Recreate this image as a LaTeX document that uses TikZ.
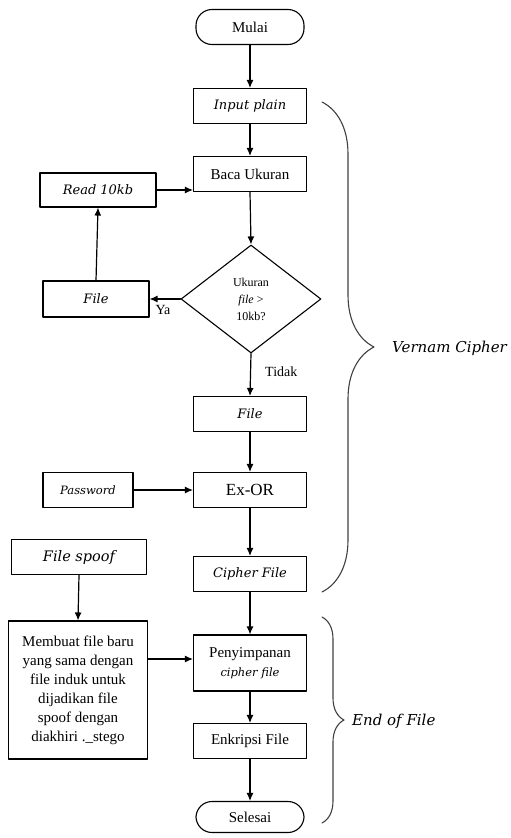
\documentclass[tikz,border=0pt]{standalone}
\usepackage{fontspec}
\setmainfont{Liberation Serif}
\newfontfamily\slfont{DejaVu Serif}
\usetikzlibrary{
  arrows.meta,
  positioning,
  calc,
  shapes.geometric,
  decorations.pathreplacing
}

\begin{document}
\begin{tikzpicture}[
  x=1pt, y=-1pt,
  line cap=round,
  line join=round,
  flow/.style={
    -{Latex[length=8pt,width=7pt]},
    line width=1.2pt,
    draw=black
  },
  box/.style={
    draw,
    line width=1.1pt,
    minimum width=113pt,
    minimum height=35pt,
    align=center,
    inner sep=2pt,
    font=\fontsize{15}{19}\selectfont
  },
  ibox/.style={
    box,
    font=\slfont\itshape\fontsize{13}{16}\selectfont
  },
  term/.style={
    box,
    rounded corners=16pt,
    minimum width=108pt
  },
  decide/.style={
    draw,
    diamond,
    line width=1.1pt,
    aspect=1.3,
    minimum width=140pt,
    minimum height=108pt,
    inner sep=0pt,
    align=center,
    font=\fontsize{12}{17}\selectfont
  },
  brc/.style={
    decorate,
    line width=1.1pt,
    draw=black!75
  },
  lab/.style={
    inner sep=1pt,
    font=\fontsize{14}{16}\selectfont
  },
  grp/.style={
    anchor=west,
    inner sep=0pt,
    font=\slfont\itshape\fontsize{15}{18}\selectfont
  }
]
\useasboundingbox (0,0) rectangle (511,838);

% Main column
\node[term]   (mulai)   at (250,  27) {Mulai};
\node[ibox]   (input)   at (250, 106) {Input plain};
\node[box]    (baca)    at (250, 174) {Baca Ukuran};
\node[decide] (ukuran)  at (251, 299) {Ukuran\\\textit{file} >\\10kb?};
\node[ibox]   (filec)   at (250, 414) {File};
\node[box, font=\fontsize{17}{19}\selectfont] (exor) at (250, 490) {Ex-OR};
\node[ibox]   (cipher)  at (250, 574) {Cipher File};
\node[box, minimum height=56pt] (simpan) at (250, 663)
  {Penyimpanan\\{\slfont\itshape\fontsize{11.5}{14}\selectfont cipher file}};
\node[box]    (enkripsi) at (250, 741) {Enkripsi File};
\node[term, minimum height=31pt] (selesai) at (250, 817) {Selesai};

% Left column
\node[ibox, minimum width=116pt, minimum height=34pt] (read) at (98, 190) {Read 10kb};
\node[ibox, minimum width=106pt, minimum height=36pt] (filel) at (96, 299) {File};
\node[ibox, minimum width=90pt,
  font=\slfont\itshape\fontsize{11.5}{14}\selectfont] (pass) at (88, 490) {Password};
\node[ibox, minimum width=135pt,
  font=\slfont\itshape\fontsize{14.5}{16}\selectfont] (spoof) at (79, 557) {File spoof};
\node[box, minimum width=139pt, minimum height=138pt] (buat) at (78, 690)
  {Membuat file baru\\yang sama dengan\\file induk untuk\\dijadikan file\\spoof dengan\\diakhiri .\_stego};

% Main flow
\draw[flow] (mulai.south)  -- (input.north);
\draw[flow] (input.south)  -- (baca.north);
\draw[flow] (baca.south)   -- (ukuran.north);
\draw[flow] (ukuran.west)  -- (filel.east);
\node[lab] at (163, 310) {Ya};
\draw[flow] (filel.north)  -- (read.south);
\draw[flow] (read.east)    -- (read.east -| baca.west);
\draw[flow] (ukuran.south) -- (filec.north);
\node[lab, anchor=west] at (264, 372) {Tidak};
\draw[flow] (filec.south)  -- (exor.north);
\draw[flow] (pass.east)    -- (exor.west);
\draw[flow] (exor.south)   -- (cipher.north);
\draw[flow] (cipher.south) -- (simpan.north);
\draw[flow] (spoof.south)  -- (buat.north);
\draw[flow] (buat.east |- 0,659) -- (simpan.west |- 0,659);
\draw[flow] (simpan.south) -- (enkripsi.north);
\draw[flow] (enkripsi.south) -- (selesai.north);

% Group braces
\coordinate (vtop) at (322, 102);
\coordinate (vbot) at (322, 592);
\coordinate (etop) at (322, 617);
\coordinate (ebot) at (322, 823);
\draw[brc, decoration={brace, amplitude=52pt}] (vtop) -- (vbot);
\draw[brc, decoration={brace, amplitude=22pt}] (etop) -- (ebot);
\node[grp] (vernam) at (392, 348) {Vernam Cipher};
\node[grp] (eof)    at (352, 721) {End of File};

\end{tikzpicture}
\end{document}
